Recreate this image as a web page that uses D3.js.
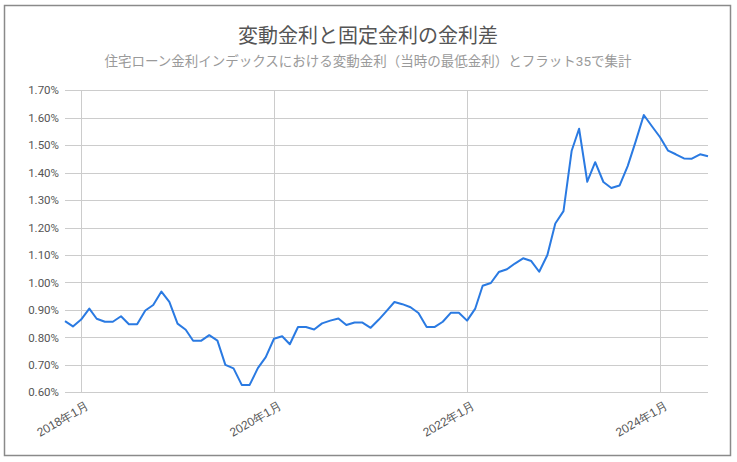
<!DOCTYPE html>
<html><head><meta charset="utf-8">
<script src="https://cdn.jsdelivr.net/npm/d3@7"></script>
<style>
body{margin:0;background:#fff;}
svg{display:block;font-family:Roboto,"Noto Sans CJK JP",sans-serif;}
</style></head>
<body><svg id="c" width="737" height="462"></svg>
<script>
const title = "変動金利と固定金利の金利差";
const subtitle = "住宅ローン金利インデックスにおける変動金利（当時の最低金利）とフラット35で集計";
const startMonth = "2017-11";
const values = [
  0.859, 0.840, 0.865, 0.905, 0.868, 0.857, 0.857, 0.877, 0.848, 0.848, 0.898, 0.918,
  0.967, 0.929, 0.850, 0.828, 0.788, 0.788, 0.808, 0.788, 0.700, 0.687, 0.627, 0.627,
  0.688, 0.728, 0.795, 0.804, 0.775, 0.838, 0.838, 0.829, 0.851, 0.861, 0.869, 0.845,
  0.854, 0.854, 0.835, 0.865, 0.895, 0.929, 0.921, 0.910, 0.889, 0.838, 0.838, 0.857,
  0.890, 0.890, 0.861, 0.905, 0.988, 0.998, 1.038, 1.048, 1.069, 1.088, 1.078, 1.039,
  1.100, 1.215, 1.260, 1.480, 1.560, 1.367, 1.438, 1.366, 1.344, 1.353, 1.424, 1.513,
  1.610, 1.570, 1.530, 1.480, 1.467, 1.452, 1.451, 1.467, 1.460
];
const yTicks = [0.6, 0.7, 0.8, 0.9, 1.0, 1.1, 1.2, 1.3, 1.4, 1.5, 1.6, 1.7];
const xTickLabels = ["2018年1月", "2020年1月", "2022年1月", "2024年1月"];
const xTickDates = ["2018-01", "2020-01", "2022-01", "2024-01"];

const parse = d3.timeParse("%Y-%m");
const start = parse(startMonth);
const data = values.map((v, i) => ({date: d3.timeMonth.offset(start, i), v}));

const svg = d3.select("#c");
const W = 737, H = 462;
const m = {left: 65, right: 29, top: 90, bottom: 70};

svg.append("rect").attr("x", 4.5).attr("y", 5.5).attr("width", 726).attr("height", 450)
  .attr("fill", "#fff").attr("stroke", "#8a8a8a").attr("stroke-width", 1.5);

const x = d3.scaleTime().domain(d3.extent(data, d => d.date)).range([m.left, W - m.right]);
const y = d3.scaleLinear().domain([0.6, 1.7]).range([392.3, 90.3]);

// gridlines
const g = svg.append("g");
g.selectAll("line.h").data(yTicks).join("line")
  .attr("x1", m.left).attr("x2", W - m.right)
  .attr("y1", d => Math.round(y(d)) + 0.5).attr("y2", d => Math.round(y(d)) + 0.5)
  .attr("stroke", "#cccccc").attr("stroke-width", 1);
const xd = xTickDates.map(parse);
g.selectAll("line.v").data(xd).join("line")
  .attr("x1", d => Math.round(x(d)) + 0.5).attr("x2", d => Math.round(x(d)) + 0.5)
  .attr("y1", y(1.7)).attr("y2", y(0.6))
  .attr("stroke", "#cccccc").attr("stroke-width", 1);

// y axis labels
const yAxis = d3.axisLeft(y).tickValues(yTicks).tickSize(0).tickPadding(6)
  .tickFormat(d => d.toFixed(2) + "%");
svg.append("g").attr("transform", `translate(${m.left},0)`).call(yAxis)
  .call(s => s.select(".domain").remove())
  .call(s => s.selectAll("text").attr("fill", "#555").attr("font-size", 11.5)
    .attr("font-family", "Roboto,sans-serif"));

// x axis labels
const xAxis = d3.axisBottom(x).tickValues(xd).tickSize(0)
  .tickFormat((d, i) => xTickLabels[i]);
svg.append("g").attr("transform", `translate(0,${y(0.6)})`).call(xAxis)
  .call(s => s.select(".domain").remove())
  .call(s => s.selectAll("text").attr("fill", "#555").attr("font-size", 12)
    .attr("text-anchor", "end").attr("dy", null).attr("y", 0)
    .attr("transform", "translate(8,16) rotate(-30)"));

// line
svg.append("path").datum(data)
  .attr("fill", "none").attr("stroke", "#2a7ae2").attr("stroke-width", 2)
  .attr("stroke-linejoin", "round")
  .attr("d", d3.line().x(d => x(d.date)).y(d => y(d.v)));

// titles
svg.append("text").attr("x", 368).attr("y", 43).attr("text-anchor", "middle")
  .attr("font-size", 20).attr("fill", "#555").text(title);
svg.append("text").attr("x", 368).attr("y", 66).attr("text-anchor", "middle")
  .attr("font-size", 13.5).attr("fill", "#9a9a9a").text(subtitle);
</script></body></html>
